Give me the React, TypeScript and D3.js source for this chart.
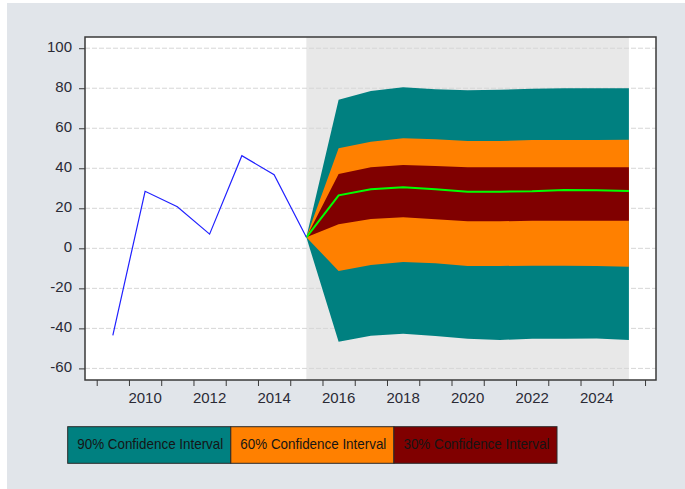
import * as d3 from 'd3';
import React, { useEffect, useRef } from 'react';

// Actual values (annual)
const actualYears = [2009, 2010, 2011, 2012, 2013, 2014, 2015];
const actual = [-43.5, 28.5, 20.8, 7.1, 46.3, 36.8, 5.5];

// Forecast fan (2015 = last actual)
const forecastYears = [2015, 2016, 2017, 2018, 2019, 2020, 2021, 2022, 2023, 2024, 2025];
const median = [5.5, 26.5, 29.5, 30.5, 29.5, 28.3, 28.3, 28.5, 29.1, 29.0, 28.6];
const upper90 = [5.5, 74.2, 78.6, 80.5, 79.5, 79.0, 79.2, 79.8, 80.0, 80.0, 80.0];
const upper60 = [5.5, 50.0, 53.3, 55.0, 54.5, 53.6, 53.6, 54.1, 54.1, 54.1, 54.3];
const upper30 = [5.5, 37.1, 40.5, 41.6, 41.1, 40.5, 40.5, 40.5, 40.5, 40.5, 40.5];
const lower30 = [5.5, 12.0, 14.6, 15.5, 14.5, 13.5, 13.5, 13.8, 13.8, 13.8, 13.8];
const lower60 = [5.5, -11.3, -8.3, -6.8, -7.5, -8.8, -8.8, -8.7, -8.7, -8.8, -9.2];
const lower90 = [5.5, -46.7, -43.7, -42.7, -43.8, -45.2, -45.8, -45.2, -45.2, -45.0, -45.8];

// Axis ticks
const yTicks = [100, 80, 60, 40, 20, 0, -20, -40, -60];
const xTickYears = d3.range(2009, 2027);
const xLabelYears = [2010, 2012, 2014, 2016, 2018, 2020, 2022, 2024];

// Legend
const legendLabels = ['90%  Confidence Interval', '60%  Confidence Interval', '30%  Confidence Interval'];
const legendColors = ['#008080', '#FF8000', '#800000'];

function App() {
    const ref = useRef<SVGSVGElement>(null);

    const width = 685;
    const height = 489;
    const frame = { left: 85, right: 656, top: 37, bottom: 380 };
    const font = '"Liberation Sans", Arial, sans-serif';

    useEffect(() => {
        const svg = d3.select(ref.current);
        svg.selectAll('*').remove();

        // background
        svg.append('rect')
            .attr('x', 7).attr('y', 3)
            .attr('width', width - 7).attr('height', height - 3)
            .attr('fill', '#E1E5EA');

        const x = d3.scaleLinear()
            .domain([2008.637, 2026.34])
            .range([frame.left, frame.right]);
        const y = d3.scaleLinear()
            .domain([-65.8, 105.6])
            .range([frame.bottom, frame.top]);

        // points sit in the middle of each year
        const px = (yr: number) => x(yr + 0.5);

        // plot area
        svg.append('rect')
            .attr('x', frame.left).attr('y', frame.top)
            .attr('width', frame.right - frame.left).attr('height', frame.bottom - frame.top)
            .attr('fill', 'white');

        // forecast shading
        svg.append('rect')
            .attr('x', px(forecastYears[0]))
            .attr('y', frame.top)
            .attr('width', px(forecastYears[forecastYears.length - 1]) - px(forecastYears[0]))
            .attr('height', frame.bottom - frame.top)
            .attr('fill', '#E8E8E8');

        // horizontal gridlines
        svg.append('g')
            .selectAll('line')
            .data(yTicks)
            .join('line')
            .attr('x1', frame.left).attr('x2', frame.right)
            .attr('y1', (d) => y(d)).attr('y2', (d) => y(d))
            .attr('stroke', '#D6D6D6')
            .attr('stroke-width', 1)
            .attr('stroke-dasharray', '5,2');

        // fan bands
        const bands = [
            { hi: upper90, lo: lower90, color: legendColors[0] },
            { hi: upper60, lo: lower60, color: legendColors[1] },
            { hi: upper30, lo: lower30, color: legendColors[2] },
        ];
        bands.forEach((b) => {
            const area = d3.area<number>()
                .x((d, i) => px(forecastYears[i]))
                .y0((d, i) => y(b.lo[i]))
                .y1((d) => y(d));
            svg.append('path')
                .datum(b.hi)
                .attr('fill', b.color)
                .attr('d', area);
        });

        // median forecast
        const medLine = d3.line<number>()
            .x((d, i) => px(forecastYears[i]))
            .y((d) => y(d));
        svg.append('path')
            .datum(median)
            .attr('fill', 'none')
            .attr('stroke', '#00FF00')
            .attr('stroke-width', 2)
            .attr('d', medLine);

        // actual series
        const actLine = d3.line<number>()
            .x((d, i) => px(actualYears[i]))
            .y((d) => y(d));
        svg.append('path')
            .datum(actual)
            .attr('fill', 'none')
            .attr('stroke', '#2020FF')
            .attr('stroke-width', 1.2)
            .attr('d', actLine);

        // frame
        svg.append('rect')
            .attr('x', frame.left).attr('y', frame.top)
            .attr('width', frame.right - frame.left).attr('height', frame.bottom - frame.top)
            .attr('fill', 'none')
            .attr('stroke', '#3A3A3A')
            .attr('stroke-width', 1.5);

        // y axis (plain hyphen for negatives, like the original)
        const yAxis = svg.append('g')
            .attr('transform', `translate(${frame.left},0)`)
            .call(d3.axisLeft(y).tickValues(yTicks).tickSize(6).tickSizeOuter(0).tickFormat((d) => String(d)));
        yAxis.select('.domain').remove();
        yAxis.selectAll('line').attr('stroke', '#3A3A3A');
        yAxis.selectAll('text')
            .attr('x', -13)
            .attr('dy', '0.23em')
            .attr('fill', '#2A2A35')
            .style('font-family', font)
            .style('font-size', '15px');

        // x axis ticks
        const xAxis = svg.append('g')
            .attr('transform', `translate(0,${frame.bottom})`)
            .call(d3.axisBottom(x).tickValues(xTickYears).tickSize(6).tickSizeOuter(0).tickFormat(() => ''));
        xAxis.select('.domain').remove();
        xAxis.selectAll('line').attr('stroke', '#3A3A3A');

        // x labels centred in the year
        svg.append('g')
            .selectAll('text')
            .data(xLabelYears)
            .join('text')
            .attr('x', (d) => px(d))
            .attr('y', 402.7)
            .attr('text-anchor', 'middle')
            .attr('fill', '#2A2A35')
            .style('font-family', font)
            .style('font-size', '15px')
            .text((d) => d);

        // legend
        const lg = d3.scaleBand<string>()
            .domain(legendLabels)
            .range([67.7, 557]);
        const legend = svg.append('g');
        legend.selectAll('rect')
            .data(legendLabels)
            .join('rect')
            .attr('x', (d) => lg(d) as number)
            .attr('y', 426.7)
            .attr('width', lg.bandwidth())
            .attr('height', 36.6)
            .attr('fill', (d, i) => legendColors[i])
            .attr('stroke', '#2A2A2A')
            .attr('stroke-width', 1);
        legend.selectAll('text')
            .data(legendLabels)
            .join('text')
            .attr('x', (d) => (lg(d) as number) + lg.bandwidth() / 2 + 1)
            .attr('y', 448.5)
            .attr('text-anchor', 'middle')
            .attr('fill', '#151515')
            .attr('textLength', 146)
            .attr('lengthAdjust', 'spacingAndGlyphs')
            .style('font-family', font)
            .style('font-size', '15px')
            .text((d) => d);
    }, []);

    return (
        <svg
            ref={ref}
            width={width}
            height={height}
            style={{ position: 'absolute', left: 0, top: 0, background: 'white' }}
        />
    );
}

export default App;
